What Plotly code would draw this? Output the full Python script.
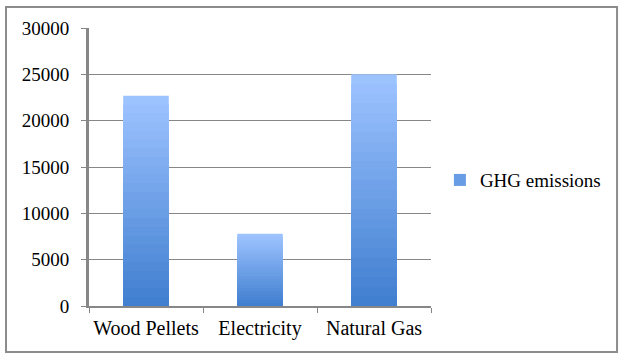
import plotly.graph_objects as go

categories = ["Wood Pellets", "Electricity", "Natural Gas"]
ghg_emissions = [22700, 7800, 25000]
y_ticks = [0, 5000, 10000, 15000, 20000, 25000, 30000]

# Excel style vertical gradient: light at top, darker blue at bottom
top_rgb = (157, 195, 255)
bottom_rgb = (61, 124, 206)
steps = 24


def mix(f):
    return "rgb(%d,%d,%d)" % tuple(
        round(b + (t - b) * f) for t, b in zip(top_rgb, bottom_rgb))


fig = go.Figure()
for i in range(steps):
    f = (steps - i) / steps
    fig.add_trace(go.Bar(
        x=categories,
        y=[v * f for v in ghg_emissions],
        marker_color=mix(f),
        marker_line_width=0,
        name="GHG emissions",
        showlegend=False,
        hoverinfo="skip" if i else None,
    ))

# legend entry
fig.add_trace(go.Bar(
    x=categories, y=[None] * 3, name="GHG emissions",
    marker_color=mix(0.45), marker_line_width=0, showlegend=True))

font = dict(family="Liberation Serif", size=19, color="black")

fig.update_layout(
    barmode="overlay",
    bargap=0.6,
    width=624, height=359,
    margin=dict(l=89, r=193, t=28, b=53),
    paper_bgcolor="white",
    plot_bgcolor="white",
    font=font,
    legend=dict(x=1.026, y=0.453, yanchor="middle", xanchor="left",
                font=font, itemwidth=30, bgcolor="rgba(0,0,0,0)"),
    xaxis=dict(
        showline=True, linecolor="#878787", linewidth=2,
        ticks="outside", tickson="boundaries", ticklen=5,
        tickcolor="#878787", tickwidth=1, showgrid=False,
        tickfont=dict(family="Liberation Serif", size=20, color="black"),
        ticklabelstandoff=3, tickangle=0, automargin=False,
    ),
    yaxis=dict(
        range=[0, 30000], tickvals=y_ticks, tickformat="d",
        showline=True, linecolor="#878787", linewidth=3,
        ticks="outside", ticklen=5, tickcolor="#878787",
        showgrid=True, gridcolor="#878787", gridwidth=1,
        zeroline=False, ticklabelstandoff=8, automargin=False,
    ),
    shapes=[dict(type="rect", xref="paper", yref="paper",
                 x0=-0.2427, x1=1.544, y0=-0.1655, y1=1.0755,
                 line=dict(color="#8c8c8c", width=2), layer="below")],
)

fig.write_html("out.html", config={"displayModeBar": False},
               post_script="document.body.style.margin='0';")
